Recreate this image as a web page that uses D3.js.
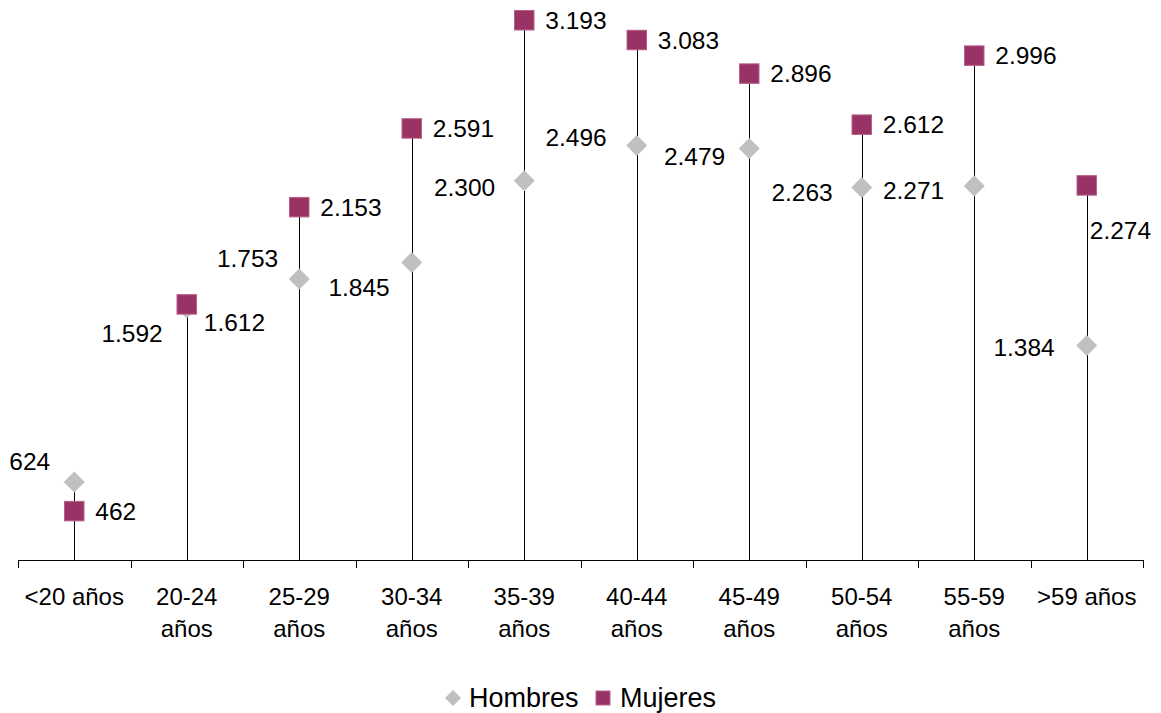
<!DOCTYPE html>
<html>
<head>
<meta charset="utf-8">
<script src="https://cdn.jsdelivr.net/npm/d3@7"></script>
<style>
  html, body { margin: 0; padding: 0; background: #ffffff; }
  svg { display: block; font-family: "Liberation Sans", Arial, sans-serif; }
</style>
</head>
<body>
<svg id="chart" width="1161" height="713"></svg>
<script>
// ---- data ----
const categories = ["<20 años", "20-24 años", "25-29 años", "30-34 años", "35-39 años",
                    "40-44 años", "45-49 años", "50-54 años", "55-59 años", ">59 años"];
const categoryLines = [["<20 años"], ["20-24", "años"], ["25-29", "años"], ["30-34", "años"],
                       ["35-39", "años"], ["40-44", "años"], ["45-49", "años"], ["50-54", "años"],
                       ["55-59", "años"], [">59 años"]];
const hombres = [624, 1592, 1753, 1845, 2300, 2496, 2479, 2263, 2271, 1384];
const mujeres = [462, 1612, 2153, 2591, 3193, 3083, 2896, 2612, 2996, 2274];
const seriesNames = ["Hombres", "Mujeres"];

// label nudges (relative to the marker)
const hombresLabelDx = [-24, -24, -21, -22, -29, -30, -24, -29, -30, -32];
const hombresLabelDy = [-21, 25, -21, 25, 7, -8, 8, 5, 4, 2];
const mujeresLabelDx = [21, 17, 21, 21, 21, 21, 21, 21, 21, 3];
const mujeresLabelDy = [0, 18, 0, 0, 0, 0, 0, 0, 0, 45];

const fmt = v => d3.format(",")(v).replace(/,/g, ".");

const svg = d3.select("#chart");
const axisY = 560;
const x = d3.scaleBand().domain(categories).range([18, 1143]);
const y = d3.scaleLinear().domain([190, 3300]).range([axisY, 1]);
const cx = i => x(categories[i]) + x.bandwidth() / 2;

const colH = "#C0C0C0", colM = "#993366";

// drop lines
svg.append("g").selectAll("line").data(categories).join("line")
  .attr("x1", (d, i) => Math.round(cx(i)) + 0.5)
  .attr("x2", (d, i) => Math.round(cx(i)) + 0.5)
  .attr("y1", axisY)
  .attr("y2", (d, i) => y(Math.max(hombres[i], mujeres[i])))
  .attr("stroke", "#000").attr("stroke-width", 1);

// axis
const ax = svg.append("g");
ax.append("line").attr("x1", x.range()[0]).attr("x2", x.range()[1])
  .attr("y1", axisY + 0.5).attr("y2", axisY + 0.5).attr("stroke", "#000");
const bounds = categories.map(c => x(c)).concat([x.range()[1]]);
ax.selectAll("line.tick").data(bounds).join("line").attr("class", "tick")
  .attr("x1", d => Math.round(d) + 0.5).attr("x2", d => Math.round(d) + 0.5)
  .attr("y1", axisY).attr("y2", axisY + 8).attr("stroke", "#000");
const tl = ax.selectAll("text").data(categoryLines).join("text")
  .attr("text-anchor", "middle").attr("font-size", 24).attr("fill", "#000");
tl.each(function(lines, i) {
  d3.select(this).selectAll("tspan").data(lines).join("tspan")
    .attr("x", cx(i)).attr("y", (d, k) => 605 + k * 32).text(d => d);
});

// hombres diamonds
const hd = 10.5;
svg.append("g").selectAll("path").data(hombres).join("path")
  .attr("d", (v, i) => {
    const px = cx(i), py = y(v);
    return `M${px},${py - hd}L${px + hd},${py}L${px},${py + hd}L${px - hd},${py}Z`;
  })
  .attr("fill", colH);

// mujeres squares
const sq = 19.5;
svg.append("g").selectAll("rect").data(mujeres).join("rect")
  .attr("x", (v, i) => cx(i) - sq / 2).attr("y", v => y(v) - sq / 2)
  .attr("width", sq).attr("height", sq)
  .attr("fill", colM).attr("stroke", "#b8608a").attr("stroke-width", 1);

// labels
svg.append("g").selectAll("text").data(hombres).join("text")
  .attr("x", (v, i) => cx(i) + hombresLabelDx[i])
  .attr("y", (v, i) => y(v) + hombresLabelDy[i])
  .attr("dy", "0.35em").attr("text-anchor", "end")
  .attr("font-size", 24.5).attr("fill", "#000").text(v => fmt(v));
svg.append("g").selectAll("text").data(mujeres).join("text")
  .attr("x", (v, i) => cx(i) + mujeresLabelDx[i])
  .attr("y", (v, i) => y(v) + mujeresLabelDy[i])
  .attr("dy", "0.35em").attr("text-anchor", "start")
  .attr("font-size", 24.5).attr("fill", "#000").text(v => fmt(v));

// legend
const lg = svg.append("g");
const ly = 698;
lg.append("path").attr("d", `M453,${ly - 8}L461,${ly}L453,${ly + 8}L445,${ly}Z`).attr("fill", colH);
lg.append("text").attr("x", 469).attr("y", ly).attr("dy", "0.35em")
  .attr("font-size", 27).attr("fill", "#000").text(seriesNames[0]);
lg.append("rect").attr("x", 596).attr("y", ly - 7).attr("width", 14).attr("height", 14)
  .attr("fill", colM).attr("stroke", "#b8608a");
lg.append("text").attr("x", 620).attr("y", ly).attr("dy", "0.35em")
  .attr("font-size", 27).attr("fill", "#000").text(seriesNames[1]);
</script>
</body>
</html>
